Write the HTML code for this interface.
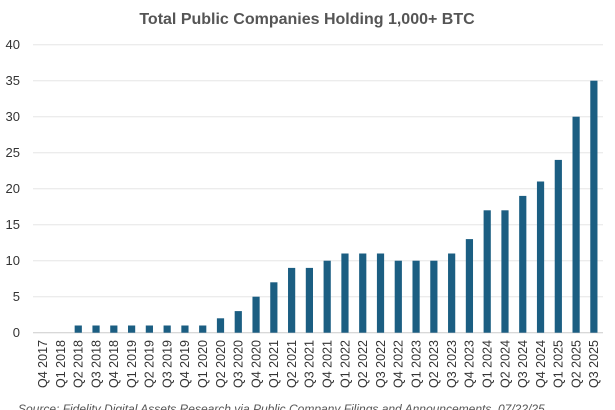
<!DOCTYPE html>
<html><head><meta charset="utf-8"><style>
body{margin:0;background:#fff;width:615px;height:410px;overflow:hidden}
svg{display:block}
</style></head><body>
<svg width="615" height="410" xmlns="http://www.w3.org/2000/svg" font-family="Liberation Sans, sans-serif">
<text x="307" y="24" text-anchor="middle" font-size="16" font-weight="bold" fill="#555">Total Public Companies Holding 1,000+ BTC</text>
<g stroke="#e6e6e6" stroke-width="1">
<line x1="33" x2="603" y1="44.7" y2="44.7"/><line x1="33" x2="603" y1="80.7" y2="80.7"/><line x1="33" x2="603" y1="116.7" y2="116.7"/><line x1="33" x2="603" y1="152.7" y2="152.7"/><line x1="33" x2="603" y1="188.7" y2="188.7"/><line x1="33" x2="603" y1="224.7" y2="224.7"/><line x1="33" x2="603" y1="260.7" y2="260.7"/><line x1="33" x2="603" y1="296.7" y2="296.7"/>
<line x1="33" x2="603" y1="332.7" y2="332.7" stroke="#ccc"/>
</g>
<g font-size="13" fill="#333" text-anchor="end">
<text x="20" y="49">40</text><text x="20" y="85">35</text><text x="20" y="121">30</text><text x="20" y="157">25</text><text x="20" y="193">20</text><text x="20" y="229">15</text><text x="20" y="265">10</text><text x="20" y="301">5</text><text x="20" y="337">0</text>
</g>
<g fill="#1b5e82">
<rect x="74.66" y="325.5" width="7.2" height="7.2"/>
<rect x="92.44" y="325.5" width="7.2" height="7.2"/>
<rect x="110.22" y="325.5" width="7.2" height="7.2"/>
<rect x="128" y="325.5" width="7.2" height="7.2"/>
<rect x="145.78" y="325.5" width="7.2" height="7.2"/>
<rect x="163.56" y="325.5" width="7.2" height="7.2"/>
<rect x="181.34" y="325.5" width="7.2" height="7.2"/>
<rect x="199.12" y="325.5" width="7.2" height="7.2"/>
<rect x="216.9" y="318.3" width="7.2" height="14.4"/>
<rect x="234.68" y="311.1" width="7.2" height="21.6"/>
<rect x="252.46" y="296.7" width="7.2" height="36"/>
<rect x="270.24" y="282.3" width="7.2" height="50.4"/>
<rect x="288.02" y="267.9" width="7.2" height="64.8"/>
<rect x="305.8" y="267.9" width="7.2" height="64.8"/>
<rect x="323.58" y="260.7" width="7.2" height="72"/>
<rect x="341.36" y="253.5" width="7.2" height="79.2"/>
<rect x="359.14" y="253.5" width="7.2" height="79.2"/>
<rect x="376.92" y="253.5" width="7.2" height="79.2"/>
<rect x="394.7" y="260.7" width="7.2" height="72"/>
<rect x="412.48" y="260.7" width="7.2" height="72"/>
<rect x="430.26" y="260.7" width="7.2" height="72"/>
<rect x="448.04" y="253.5" width="7.2" height="79.2"/>
<rect x="465.82" y="239.1" width="7.2" height="93.6"/>
<rect x="483.6" y="210.3" width="7.2" height="122.4"/>
<rect x="501.38" y="210.3" width="7.2" height="122.4"/>
<rect x="519.16" y="195.9" width="7.2" height="136.8"/>
<rect x="536.94" y="181.5" width="7.2" height="151.2"/>
<rect x="554.72" y="159.9" width="7.2" height="172.8"/>
<rect x="572.5" y="116.7" width="7.2" height="216"/>
<rect x="590.28" y="80.7" width="7.2" height="252"/>
</g>
<g font-size="12.5" fill="#333" text-anchor="end">
<text transform="translate(47,340) rotate(-90)">Q4 2017</text>
<text transform="translate(64.78,340) rotate(-90)">Q1 2018</text>
<text transform="translate(82.56,340) rotate(-90)">Q2 2018</text>
<text transform="translate(100.34,340) rotate(-90)">Q3 2018</text>
<text transform="translate(118.12,340) rotate(-90)">Q4 2018</text>
<text transform="translate(135.9,340) rotate(-90)">Q1 2019</text>
<text transform="translate(153.68,340) rotate(-90)">Q2 2019</text>
<text transform="translate(171.46,340) rotate(-90)">Q3 2019</text>
<text transform="translate(189.24,340) rotate(-90)">Q4 2019</text>
<text transform="translate(207.02,340) rotate(-90)">Q1 2020</text>
<text transform="translate(224.8,340) rotate(-90)">Q2 2020</text>
<text transform="translate(242.58,340) rotate(-90)">Q3 2020</text>
<text transform="translate(260.36,340) rotate(-90)">Q4 2020</text>
<text transform="translate(278.14,340) rotate(-90)">Q1 2021</text>
<text transform="translate(295.92,340) rotate(-90)">Q2 2021</text>
<text transform="translate(313.7,340) rotate(-90)">Q3 2021</text>
<text transform="translate(331.48,340) rotate(-90)">Q4 2021</text>
<text transform="translate(349.26,340) rotate(-90)">Q1 2022</text>
<text transform="translate(367.04,340) rotate(-90)">Q2 2022</text>
<text transform="translate(384.82,340) rotate(-90)">Q3 2022</text>
<text transform="translate(402.6,340) rotate(-90)">Q4 2022</text>
<text transform="translate(420.38,340) rotate(-90)">Q1 2023</text>
<text transform="translate(438.16,340) rotate(-90)">Q2 2023</text>
<text transform="translate(455.94,340) rotate(-90)">Q3 2023</text>
<text transform="translate(473.72,340) rotate(-90)">Q4 2023</text>
<text transform="translate(491.5,340) rotate(-90)">Q1 2024</text>
<text transform="translate(509.28,340) rotate(-90)">Q2 2024</text>
<text transform="translate(527.06,340) rotate(-90)">Q3 2024</text>
<text transform="translate(544.84,340) rotate(-90)">Q4 2024</text>
<text transform="translate(562.62,340) rotate(-90)">Q1 2025</text>
<text transform="translate(580.4,340) rotate(-90)">Q2 2025</text>
<text transform="translate(598.18,340) rotate(-90)">Q3 2025</text>
</g>
<text x="18" y="413" font-size="12" font-style="italic" fill="#555">Source: Fidelity Digital Assets Research via Public Company Filings and Announcements, 07/22/25</text>
</svg>
</body></html>
